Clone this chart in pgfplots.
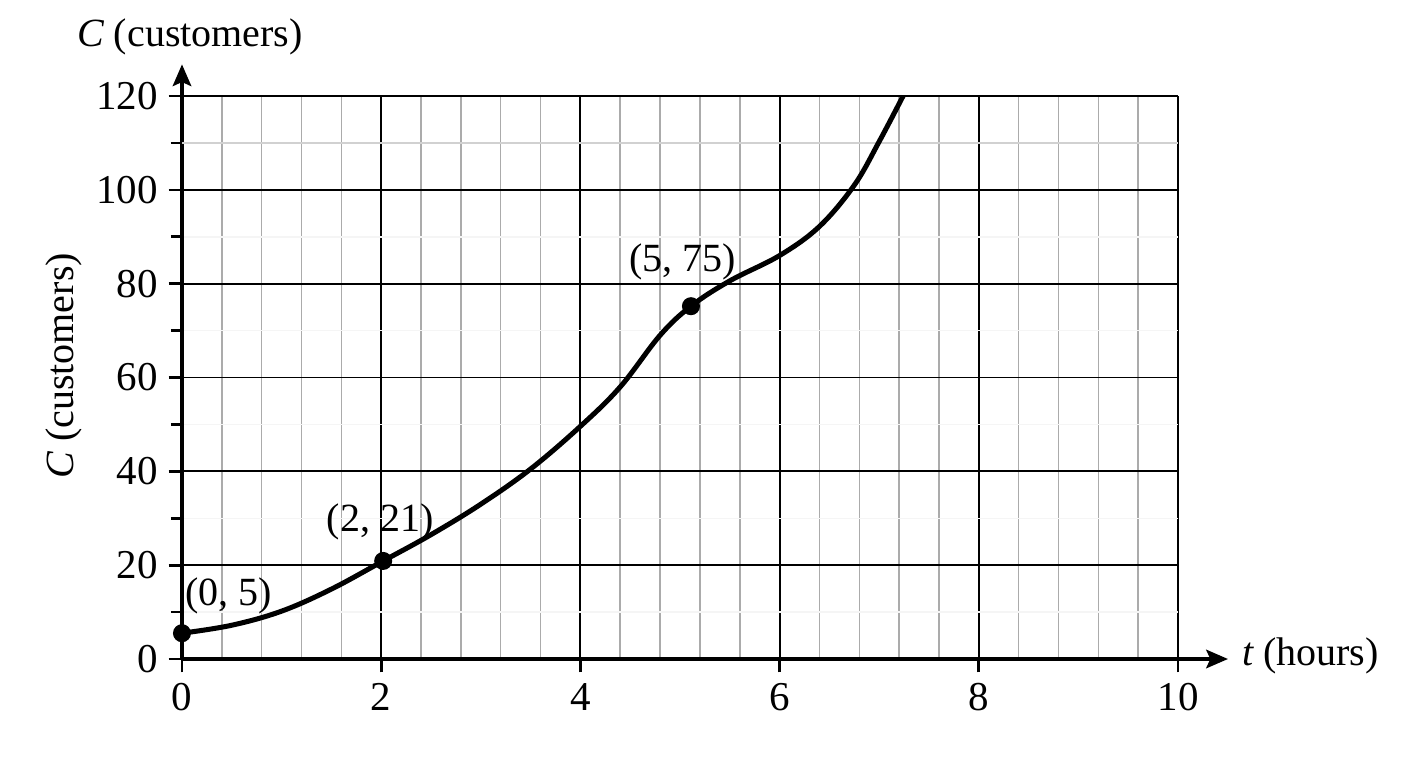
\documentclass[border=0pt]{standalone}
\usepackage{fontspec}
\setmainfont{Liberation Serif}
\usepackage{pgfplots}
\pgfplotsset{compat=1.18}
\usetikzlibrary{arrows.meta}
\begin{document}
\fontsize{12}{14}\selectfont
\begin{tikzpicture}
\path[use as bounding box] (-54.6pt,-32.7pt) rectangle (367.8pt,197.7pt);
\begin{axis}[
  at={(0,0)}, anchor=south west,
  scale only axis, width=298.8pt, height=168.9pt,
  xmin=0, xmax=10, ymin=0, ymax=120,
  clip=false,
  axis lines=left,
  x axis line style={line width=1.2pt, -{Stealth[length=6.5pt,width=5.5pt,inset=1.2pt]}, shorten >=-15pt},
  y axis line style={line width=1.2pt, -{Stealth[length=6.5pt,width=5.5pt,inset=1.2pt]}, shorten >=-9.5pt},
  xtick={0,2,...,10}, ytick={0,20,...,120},
  minor x tick num=4, minor y tick num=1,
  grid=both,
  major grid style={black, line width=0.55pt},
  minor x grid style={black!33, line width=0.45pt},
  minor y grid style={black!4, line width=0.45pt},
  extra y ticks={110},
  extra y tick labels={},
  extra y tick style={major grid style={black!18, line width=0.45pt}, major tick length=3.3pt},
  tick align=outside,
  major tick length=4pt, minor tick length=3.3pt,
  tick style={black, line width=0.8pt},
  minor x tick style={draw=none},
  /pgf/number format/assume math mode=true,
  ticklabel style={font=\fontsize{12.3}{14}\selectfont},
  yticklabel style={xshift=1pt},
  xticklabel style={yshift=0.8pt},
]
\addplot[black, line width=1.5pt, smooth, tension=0.6] coordinates {
(0,5.5) (0.5,7.2) (1.0,10.2) (1.5,14.9) (2.02,20.9) (2.5,26.5) (3.0,33.0)
(3.5,40.5) (4.0,49.6) (4.4,58.0) (4.8,69.0) (5.11,75.2) (5.5,80.6)
(6.0,86.0) (6.4,92.2) (6.75,101.0) (7.0,110.3) (7.24,120)
};
\addplot[black, only marks, mark=*, mark size=2.5pt] coordinates {(0,5.5) (2.02,20.9) (5.11,75.2)};
\node at (axis cs:0.47,13.4) {(0, 5)};
\node at (axis cs:1.99,29.3) {(2, 21)};
\node at (axis cs:5.03,84.7) {(5, 75)};
\node at (rel axis cs:0,1) [xshift=2.4pt, yshift=17.7pt] {\itshape C\upshape{} (customers)};
\node at (rel axis cs:0,0.5) [xshift=-35.4pt, yshift=3.5pt, rotate=90] {\itshape C\upshape{} (customers)};
\node at (rel axis cs:1,0) [anchor=west, xshift=15pt, yshift=1pt] {\itshape t\upshape{} (hours)};
\end{axis}
\end{tikzpicture}
\end{document}
